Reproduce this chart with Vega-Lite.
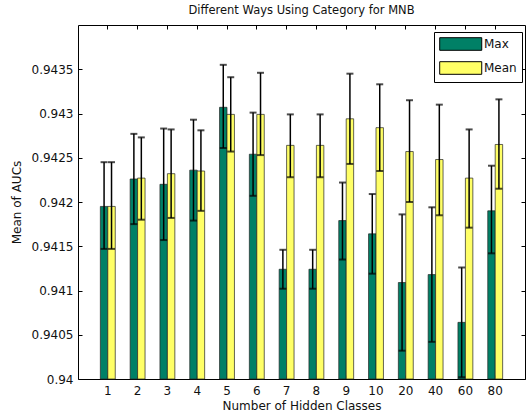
{
  "$schema": "https://vega.github.io/schema/vega-lite/v6.json",
  "autosize": {"type": "none"},
  "padding": {"left": 78, "top": 25, "right": 1, "bottom": 41},
  "width": 447,
  "height": 354,
  "background": "white",
  "title": {"text": "Different Ways Using Category for MNB", "fontSize": 11.5, "fontWeight": "normal", "font": "DejaVu Sans", "color": "#111", "offset": 8, "anchor": "middle"},
  "config": {
    "font": "DejaVu Sans",
    "view": {"stroke": "black", "strokeWidth": 1},
    "axis": {"grid": false, "domain": false, "tickColor": "black", "tickWidth": 1, "labelColor": "#111", "titleColor": "#111", "labelFontSize": 12, "titleFontSize": 12, "titleFontWeight": "normal", "labelFont": "DejaVu Sans", "titleFont": "DejaVu Sans"}
  },
  "data": {"values": [
    {"cls": "1", "series": "Max", "value": 0.94195, "lo": 0.94147, "hi": 0.94245},
    {"cls": "1", "series": "Mean", "value": 0.94195, "lo": 0.94147, "hi": 0.94245},
    {"cls": "2", "series": "Max", "value": 0.94226, "lo": 0.94175, "hi": 0.94277},
    {"cls": "2", "series": "Mean", "value": 0.94227, "lo": 0.9418, "hi": 0.94273},
    {"cls": "3", "series": "Max", "value": 0.9422, "lo": 0.94157, "hi": 0.94283},
    {"cls": "3", "series": "Mean", "value": 0.94232, "lo": 0.94182, "hi": 0.94282},
    {"cls": "4", "series": "Max", "value": 0.94236, "lo": 0.94179, "hi": 0.94293},
    {"cls": "4", "series": "Mean", "value": 0.94235, "lo": 0.9419, "hi": 0.94281},
    {"cls": "5", "series": "Max", "value": 0.94307, "lo": 0.94261, "hi": 0.94355},
    {"cls": "5", "series": "Mean", "value": 0.94299, "lo": 0.94257, "hi": 0.94341},
    {"cls": "6", "series": "Max", "value": 0.94254, "lo": 0.94207, "hi": 0.94301},
    {"cls": "6", "series": "Mean", "value": 0.94299, "lo": 0.94253, "hi": 0.94346},
    {"cls": "7", "series": "Max", "value": 0.94124, "lo": 0.94102, "hi": 0.94146},
    {"cls": "7", "series": "Mean", "value": 0.94264, "lo": 0.94228, "hi": 0.94299},
    {"cls": "8", "series": "Max", "value": 0.94124, "lo": 0.94102, "hi": 0.94146},
    {"cls": "8", "series": "Mean", "value": 0.94264, "lo": 0.94228, "hi": 0.94299},
    {"cls": "9", "series": "Max", "value": 0.94179, "lo": 0.94135, "hi": 0.94222},
    {"cls": "9", "series": "Mean", "value": 0.94294, "lo": 0.94243, "hi": 0.94345},
    {"cls": "10", "series": "Max", "value": 0.94164, "lo": 0.94119, "hi": 0.94209},
    {"cls": "10", "series": "Mean", "value": 0.94284, "lo": 0.94235, "hi": 0.94333},
    {"cls": "20", "series": "Max", "value": 0.94109, "lo": 0.94032, "hi": 0.94186},
    {"cls": "20", "series": "Mean", "value": 0.94257, "lo": 0.942, "hi": 0.94315},
    {"cls": "40", "series": "Max", "value": 0.94118, "lo": 0.94042, "hi": 0.94194},
    {"cls": "40", "series": "Mean", "value": 0.94248, "lo": 0.94185, "hi": 0.9431},
    {"cls": "60", "series": "Max", "value": 0.94064, "lo": 0.94002, "hi": 0.94126},
    {"cls": "60", "series": "Mean", "value": 0.94227, "lo": 0.94171, "hi": 0.94282},
    {"cls": "80", "series": "Max", "value": 0.9419, "lo": 0.94142, "hi": 0.94241},
    {"cls": "80", "series": "Mean", "value": 0.94265, "lo": 0.94215, "hi": 0.94316}
  ]},
  "resolve": {"axis": {"x": "independent", "y": "independent"}},
  "layer": [
    {
      "mark": {"type": "bar", "stroke": "#222", "strokeWidth": 0.7},
      "encoding": {
        "x": {"field": "cls", "type": "ordinal", "sort": ["1","2","3","4","5","6","7","8","9","10","20","40","60","80"],
              "scale": {"paddingInner": 0.5, "paddingOuter": 0.75},
              "axis": {"title": "Number of Hidden Classes", "labelAngle": 0, "tickSize": -4, "labelPadding": 10, "titlePadding": 4}},
        "xOffset": {"field": "series", "type": "nominal", "scale": {"domain": ["Max", "Mean"], "paddingInner": 0, "paddingOuter": 0}},
        "y": {"field": "value", "type": "quantitative", "scale": {"domain": [0.94, 0.944], "zero": false, "nice": false},
              "axis": {"title": "Mean of AUCs", "values": [0.94, 0.9405, 0.941, 0.9415, 0.942, 0.9425, 0.943, 0.9435], "format": "~g", "tickSize": -4, "labelPadding": 9, "titlePadding": 8}},
        "y2": {"datum": 0.94},
        "color": {"field": "series", "type": "nominal", "scale": {"domain": ["Max", "Mean"], "range": ["#008066", "#ffff66"]},
                  "legend": {"title": null, "orient": "none", "legendX": 356, "legendY": 7, "symbolType": "M-1,-1L5.67,-1L5.67,1L-1,1Z", "symbolSize": 159, "symbolStrokeColor": "black", "symbolStrokeWidth": 1, "symbolOpacity": 1, "labelFontSize": 12, "labelColor": "#111", "labelOffset": 31, "strokeColor": "black", "fillColor": "white", "padding": 5, "rowPadding": 6}}
      }
    },
    {
      "mark": {"type": "rule", "color": "black", "strokeWidth": 1.5},
      "encoding": {
        "x": {"field": "cls", "type": "ordinal", "sort": ["1","2","3","4","5","6","7","8","9","10","20","40","60","80"], "axis": null},
        "xOffset": {"field": "series", "type": "nominal"},
        "y": {"field": "lo", "type": "quantitative", "axis": null},
        "y2": {"field": "hi"}
      }
    },
    {
      "mark": {"type": "tick", "color": "black", "thickness": 2, "size": 7, "orient": "horizontal"},
      "encoding": {
        "x": {"field": "cls", "type": "ordinal", "sort": ["1","2","3","4","5","6","7","8","9","10","20","40","60","80"], "axis": null},
        "xOffset": {"field": "series", "type": "nominal"},
        "y": {"field": "lo", "type": "quantitative", "axis": null}
      }
    },
    {
      "mark": {"type": "tick", "color": "black", "thickness": 2, "size": 7, "orient": "horizontal"},
      "encoding": {
        "x": {"field": "cls", "type": "ordinal", "sort": ["1","2","3","4","5","6","7","8","9","10","20","40","60","80"], "axis": null},
        "xOffset": {"field": "series", "type": "nominal"},
        "y": {"field": "hi", "type": "quantitative", "axis": null}
      }
    },
    {
      "mark": {"type": "point", "opacity": 0},
      "encoding": {
        "x": {"field": "cls", "type": "ordinal", "sort": ["1","2","3","4","5","6","7","8","9","10","20","40","60","80"],
              "axis": {"orient": "top", "title": null, "labels": false, "tickSize": -4}},
        "y": {"field": "value", "type": "quantitative",
              "axis": {"orient": "right", "title": null, "labels": false, "tickSize": -4, "values": [0.94, 0.9405, 0.941, 0.9415, 0.942, 0.9425, 0.943, 0.9435]}}
      }
    }
  ]
}
